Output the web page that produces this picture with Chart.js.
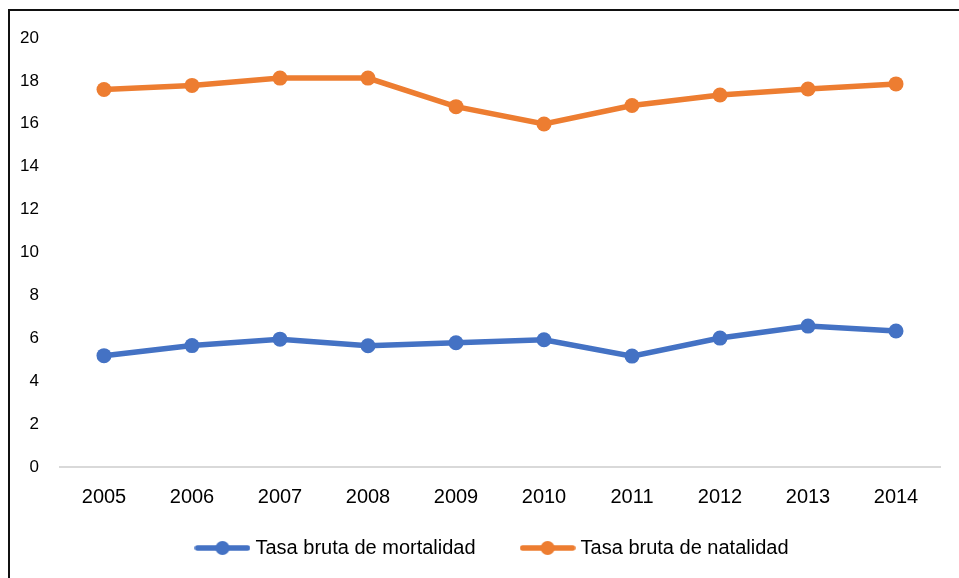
<!DOCTYPE html>
<html>
<head>
<meta charset="utf-8">
<title>Tasa bruta de mortalidad y natalidad</title>
<script src="https://cdn.jsdelivr.net/npm/chart.js"></script>
<style>
    html, body {
        margin: 0;
        padding: 0;
        background: #fff;
        overflow: hidden;
    }
    #wrap {
        position: relative;
        width: 959px;
        height: 578px;
    }
    #frame {
        position: absolute;
        left: 8px;
        top: 9px;
        width: 2000px;
        height: 2000px;
        border-left: 2px solid #111;
        border-top: 2px solid #111;
        pointer-events: none;
    }
    canvas {
        position: absolute;
        left: 0;
        top: 0;
    }
</style>
</head>
<body>
<div id="wrap">
    <canvas id="chart" width="959" height="578"></canvas>
    <div id="frame"></div>
</div>
<script>
    const years = ['2005', '2006', '2007', '2008', '2009', '2010', '2011', '2012', '2013', '2014'];
    const mortalidad = [5.19, 5.66, 5.96, 5.65, 5.79, 5.93, 5.17, 6.01, 6.57, 6.34];
    const natalidad = [17.6, 17.79, 18.13, 18.13, 16.8, 15.99, 16.85, 17.34, 17.62, 17.86];
    const yMin = 0;
    const yMax = 20;
    const yStep = 2;

    const blue = '#4472C4';
    const orange = '#ED7D31';
    const fontFam = "'Liberation Sans Narrow', 'Arial Narrow', 'Liberation Sans', Arial, sans-serif";

    // little line-with-dot picture for the legend
    function legendMark(color) {
        const c = document.createElement('canvas');
        c.width = 56;
        c.height = 16;
        const g = c.getContext('2d');
        g.strokeStyle = color;
        g.lineWidth = 5.5;
        g.lineCap = 'round';
        g.beginPath();
        g.moveTo(3, 8);
        g.lineTo(53, 8);
        g.stroke();
        g.fillStyle = color;
        g.beginPath();
        g.arc(28, 8, 7, 0, Math.PI * 2);
        g.fill();
        return c;
    }
    const marks = [legendMark(blue), legendMark(orange)];

    // nudge legend right a bit and give x labels room below the axis
    const tweakLayout = {
        id: 'tweakLayout',
        afterLayout(chart) {
            chart.scales.x.bottom += 40;
            chart.legend.left += 24;
            chart.legend.right += 24;
        }
    };

    new Chart(document.getElementById('chart').getContext('2d'), {
        type: 'line',
        data: {
            labels: years,
            datasets: [{
                label: 'Tasa bruta de mortalidad',
                data: mortalidad,
                borderColor: blue,
                backgroundColor: blue,
                borderWidth: 5.5,
                pointRadius: 7.5,
                pointHoverRadius: 7.5,
                pointBorderWidth: 0,
                fill: false,
                tension: 0
            }, {
                label: 'Tasa bruta de natalidad',
                data: natalidad,
                borderColor: orange,
                backgroundColor: orange,
                borderWidth: 5.5,
                pointRadius: 7.5,
                pointHoverRadius: 7.5,
                pointBorderWidth: 0,
                fill: false,
                tension: 0
            }]
        },
        options: {
            responsive: false,
            animation: false,
            events: [],
            layout: {
                padding: { left: 0, right: 19, top: 38, bottom: 10 }
            },
            plugins: {
                tooltip: { enabled: false },
                legend: {
                    position: 'bottom',
                    labels: {
                        usePointStyle: true,
                        pointStyleWidth: 46,
                        padding: 49,
                        color: '#000',
                        font: { family: fontFam, size: 20 },
                        generateLabels(chart) {
                            const items = Chart.defaults.plugins.legend.labels.generateLabels(chart);
                            items.forEach((it, i) => { it.pointStyle = marks[i]; });
                            return items;
                        }
                    }
                }
            },
            scales: {
                x: {
                    offset: true,
                    grid: { display: false, drawTicks: false },
                    border: { display: true, color: '#d9d9d9', width: 2 },
                    ticks: {
                        color: '#000',
                        padding: 18,
                        font: { family: fontFam, size: 20 }
                    },
                    afterFit(scale) { scale.height = 22; }
                },
                y: {
                    min: yMin,
                    max: yMax,
                    grid: { display: false, drawTicks: false },
                    border: { display: false },
                    ticks: {
                        stepSize: yStep,
                        color: '#000',
                        padding: 21,
                        font: { family: fontFam, size: 17 }
                    },
                    afterFit(scale) { scale.width = 60; }
                }
            }
        },
        plugins: [tweakLayout]
    });
</script>
</body>
</html>
